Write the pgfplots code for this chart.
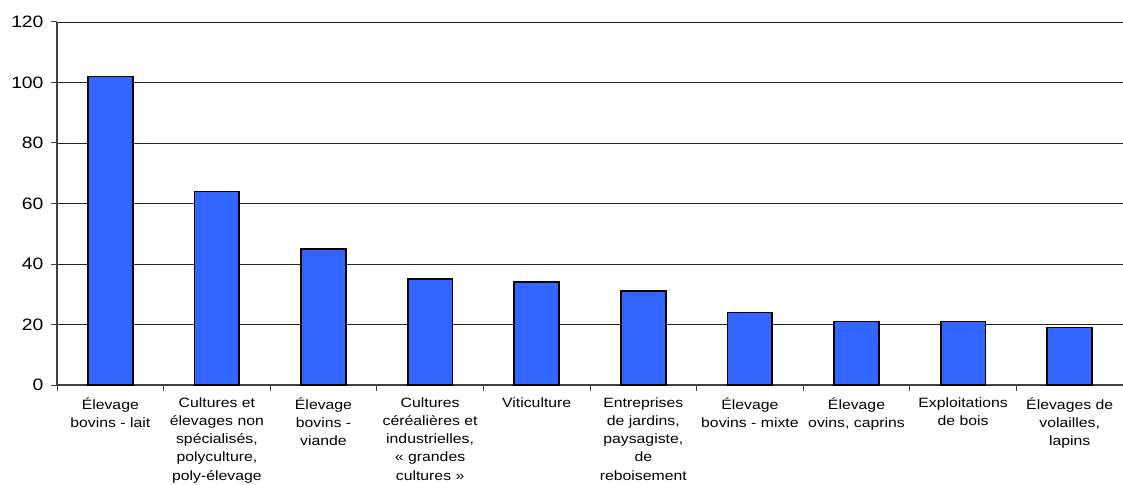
\documentclass[border=0pt]{standalone}
\usepackage{fontspec}
\setmainfont{Liberation Sans}[FakeStretch=1.17]
\usepackage{pgfplots}
\pgfplotsset{compat=1.18}
\definecolor{barblue}{RGB}{51,102,255}
\begin{document}
\begin{tikzpicture}
\begin{axis}[
    scale only axis,
    width=1066pt, height=363pt,
    xmin=-0.5, xmax=9.5,
    ymin=0, ymax=120,
    ytick={0,20,...,120},
    xtick={0,...,9},
    minor xtick={-0.5,0.5,...,9.5},
    xticklabels={
        {Élevage\\bovins - lait},
        {Cultures et\\élevages non\\spécialisés,\\polyculture,\\poly-élevage},
        {Élevage\\bovins -\\viande},
        {Cultures\\céréalières et\\industrielles,\\« grandes\\cultures »},
        {Viticulture},
        {Entreprises\\de jardins,\\paysagiste,\\de\\reboisement},
        {Élevage\\bovins - mixte},
        {Élevage\\ovins, caprins},
        {Exploitations\\de bois},
        {Élevages de\\volailles,\\lapins}
    },
    axis lines*=left,
    axis line style={black!75, line width=1.2pt},
    tick align=outside,
    major x tick style={draw=none},
    major tick length=6pt,
    minor tick length=6pt,
    every tick/.style={black!75, line width=1pt},
    ymajorgrids,
    major grid style={black!85, line width=0.9pt},
    /pgf/number format/assume math mode=true,
    yticklabel style={font=\fontsize{16.5}{18}\selectfont, xshift=-4pt},
    xticklabel style={font=\fontsize{13.5}{18.2}\selectfont, align=center, yshift=-3pt},
    bar width=0.42,
]
\coordinate (sw) at (rel axis cs:0,0);
\coordinate (ne) at (rel axis cs:1,1);
\addplot[ybar, fill=barblue, draw=black, line width=1.8pt] coordinates {
    (0,102) (1,64) (2,45) (3,35) (4,34) (5,31) (6,24) (7,21) (8,21) (9,19)
};
\end{axis}
\pgfresetboundingbox
\path ([shift={(-57pt,-99pt)}]sw) rectangle ([shift={(0pt,22pt)}]ne);
\end{tikzpicture}
\end{document}
